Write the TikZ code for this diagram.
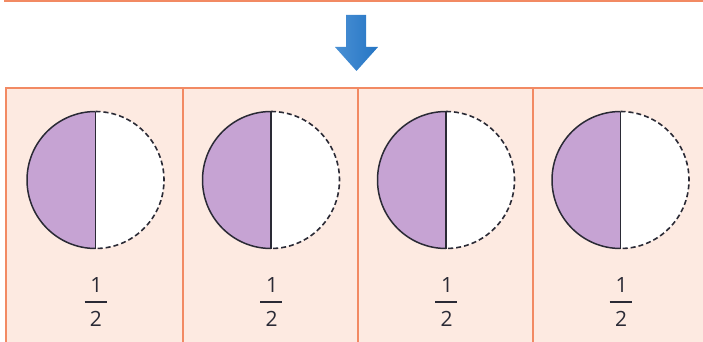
\documentclass[tikz,border=0pt]{standalone}
\usepackage{fontspec}
\newfontfamily\numfont{Open Sans}
\definecolor{peach}{HTML}{FDEAE1}
\definecolor{bord}{HTML}{F28A63}
\definecolor{halfpurple}{HTML}{C6A3D3}
\definecolor{inkline}{HTML}{2A2A35}
\definecolor{arrowblue}{HTML}{2575C4}
\definecolor{arrowlight}{HTML}{4A90D4}
\begin{document}
\begin{tikzpicture}[x=1pt,y=-1pt,
  panel/.style={draw=bord, line width=2pt, fill=peach, minimum height=262pt,
    anchor=north west, inner sep=0pt, outer sep=0pt},
  halfsolid/.style={fill=halfpurple, draw=inkline, line width=1.5pt},
  halfdash/.style={fill=white, draw=inkline, line width=1.6pt, dash pattern=on 5pt off 3pt},
  divline/.style={draw=inkline, line width=1.3pt},
  digit/.style={font=\numfont\fontsize{21pt}{24pt}\selectfont, text=inkline, inner sep=0pt},
  fracbar/.style={draw=inkline, line width=1.8pt}]
\useasboundingbox (0,0) rectangle (703,342);
\clip (0,0) rectangle (703,342);
% top box edge
\draw[bord, line width=2pt] (5,-5) -- (5,1) -- (710,1);
% arrow
\path[left color=arrowlight, right color=arrowblue, draw=none]
  (346,15) -- (366,15) -- (366,47) -- (378,47) -- (356.5,71)
  -- (335,47) -- (346,47) -- cycle;
% panels
\node[panel, minimum width=177pt] (p1) at (6,88) {};
\node[panel, minimum width=175pt] (p2) at (183,88) {};
\node[panel, minimum width=175pt] (p3) at (358,88) {};
\node[panel, minimum width=175pt] (p4) at (533,88) {};
% circles and fractions
\foreach \cx/\i in {95.5/1, 271/2, 446/3, 620.5/4}{
  \fill[halfpurple] (\cx,111.5) arc[start angle=270, end angle=90, radius=68.5] -- cycle;
  \draw[halfsolid, fill=none] (\cx,111.5) arc[start angle=270, end angle=90, radius=68.5];
  \path[halfdash] (\cx,111.5) arc[start angle=-90, end angle=90, radius=68.5];
  \draw[divline] (\cx,111.5) -- (\cx,248.5);
  \node[digit] (num\i) at (\cx+1,285) {1};
  \node[digit] (den\i) at (\cx+0.5,319) {2};
  \draw[fracbar] (\cx-11,302) -- (\cx+11,302);
}
\end{tikzpicture}
\end{document}
